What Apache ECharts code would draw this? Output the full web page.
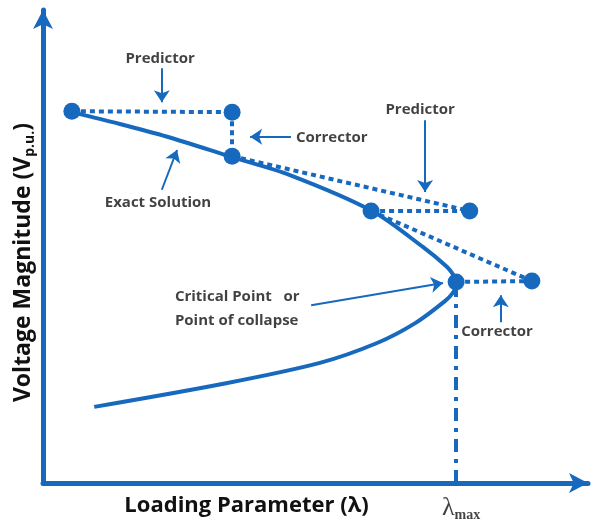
<!DOCTYPE html>
<html><head><meta charset="utf-8">
<script src="https://cdn.jsdelivr.net/npm/echarts@6/dist/echarts.min.js"></script>
<style>html,body{margin:0;padding:0;background:#fff}#c{width:591px;height:522px}</style>
</head><body><div id="c"></div>
<script>
// ---- data (chart units: lambda 0..100, V 0..100, no tick labels in the original) ----
const lambdaExact = [5.3, 14.1, 22.8, 34.7, 45.3, 60.4, 69.7, 74.1, 75.4, 76.0, 75.2, 73.8, 68.3, 61.3, 50.8, 33.6, 9.4];
const vExact      = [78.4, 75.9, 73.2, 68.9, 65.1, 57.5, 49.9, 45.7, 43.8, 42.1, 40.2, 38.5, 33.8, 29.6, 25.4, 21.1, 16.1];
// predictor / corrector step points P1..P7
const stepLambda = [5.3, 34.7, 34.7, 60.2, 78.3, 75.8, 89.7];
const stepV      = [78.6, 78.4, 69.1, 57.5, 57.5, 42.5, 42.7];
// dotted links between step points (index pairs)
const stepLinks = [[0,1],[1,2],[2,4],[3,4],[3,6],[5,6]];
const lambdaMax = 75.8;
const vCritical = 42.5;
const noteText = ['Predictor','Corrector','Exact Solution','Predictor','Critical Point   or','Point of collapse','Corrector'];
const xAxisTitle = 'Loading Parameter (λ)';
const yAxisTitle = 'Voltage Magnitude (V{s|p.u.}){g|}';

// ---- annotation layout ----
const noteAt = [[21.5,89.6,'center'],[46.4,72.9,'left'],[21.1,59.2,'center'],[69.2,78.9,'center'],[24.2,39.3,'left'],[24.2,34.2,'left'],[83.3,31.9,'center']];
const arrowAt = [
  [[21.8,87.7],[21.8,80.5]],
  [[45.5,73.2],[38.0,73.2]],
  [[21.8,62.0],[24.6,70.4]],
  [[70.1,76.7],[70.1,61.5]],
  [[49.2,37.6],[73.4,42.3]],
  [[84.0,34.0],[84.0,39.7]]
];

const BLUE = '#1769BE';
const chart = echarts.init(document.getElementById('c'), null, {renderer:'canvas'});

const exactData = lambdaExact.map((x,i)=>[x, vExact[i]]);
const stepData = stepLambda.map((x,i)=>[x, stepV[i]]);
const linkData = stepLinks.map(([a,b])=>({coords:[stepData[a], stepData[b]]}));

const option = {
  animation:false,
  grid:{left:43, right:3, top:10, bottom:39},
  xAxis:{type:'value', min:0, max:100,
    axisLine:{show:true, lineStyle:{color:BLUE, width:5}, symbol:['none','arrow'], symbolSize:[15,19]},
    axisTick:{show:false}, axisLabel:{show:false}, splitLine:{show:false},
    name:xAxisTitle, nameLocation:'middle', nameGap:12,
    nameTextStyle:{fontFamily:'Open Sans', fontWeight:'bold', fontSize:22, color:'#111', padding:[0,138,0,0]}
  },
  yAxis:{type:'value', min:0, max:100,
    axisLine:{show:true, lineStyle:{color:BLUE, width:5}, symbol:['none','arrow'], symbolSize:[15,19]},
    axisTick:{show:false}, axisLabel:{show:false}, splitLine:{show:false},
    name:yAxisTitle, nameLocation:'middle', nameGap:6, nameRotate:90,
    nameTextStyle:{fontFamily:'Open Sans', fontWeight:'bold', fontSize:23, color:'#111',
      rich:{s:{fontFamily:'Open Sans', fontWeight:'bold', fontSize:14, color:'#111', verticalAlign:'bottom', padding:[13,0,0,0]},
            g:{width:32}}}
  },
  series:[
    {type:'line', data:exactData, smooth:0.3, symbol:'none', silent:true,
     lineStyle:{color:BLUE, width:4}},
    {type:'lines', coordinateSystem:'cartesian2d', silent:true, data:linkData,
     lineStyle:{color:BLUE, width:4, type:[5,4], opacity:1}},
    {type:'lines', coordinateSystem:'cartesian2d', silent:true,
     data:[{coords:[[lambdaMax,0],[lambdaMax,vCritical]]}],
     lineStyle:{color:BLUE, width:4, type:[13,7,4,7], opacity:1}},
    {type:'lines', coordinateSystem:'cartesian2d', silent:true,
     data:arrowAt.map(c=>({coords:c})), symbol:['none','arrow'], symbolSize:[10,12],
     lineStyle:{color:BLUE, width:2, opacity:1}},
    {type:'scatter', data:stepData, symbol:'circle', symbolSize:17, silent:true,
     itemStyle:{color:BLUE, opacity:1}},
    {type:'scatter', silent:true, clip:false, symbolSize:2,
     data:noteAt.map((p,i)=>({value:[p[0],p[1]], label:{formatter:noteText[i], align:p[2]}})),
     itemStyle:{color:'rgba(0,0,0,0)'},
     label:{show:true, position:[1,1], verticalAlign:'middle', fontFamily:'Open Sans', fontWeight:'bold', fontSize:15, color:'#111'}},
    {type:'scatter', silent:true, clip:false, symbolSize:2,
     data:[{value:[lambdaMax+0.9, -5.3]}], itemStyle:{color:'rgba(0,0,0,0)'},
     label:{show:true, position:[1,1], align:'center', verticalAlign:'middle', formatter:'{l|λ}{s|max}',
       rich:{l:{fontFamily:'Liberation Serif', fontSize:26, color:'#111'},
             s:{fontFamily:'Liberation Serif', fontWeight:'bold', fontSize:14, color:'#111', verticalAlign:'bottom', padding:[15,0,0,0]}}}}
  ]
};
chart.setOption(option);
</script></body></html>
